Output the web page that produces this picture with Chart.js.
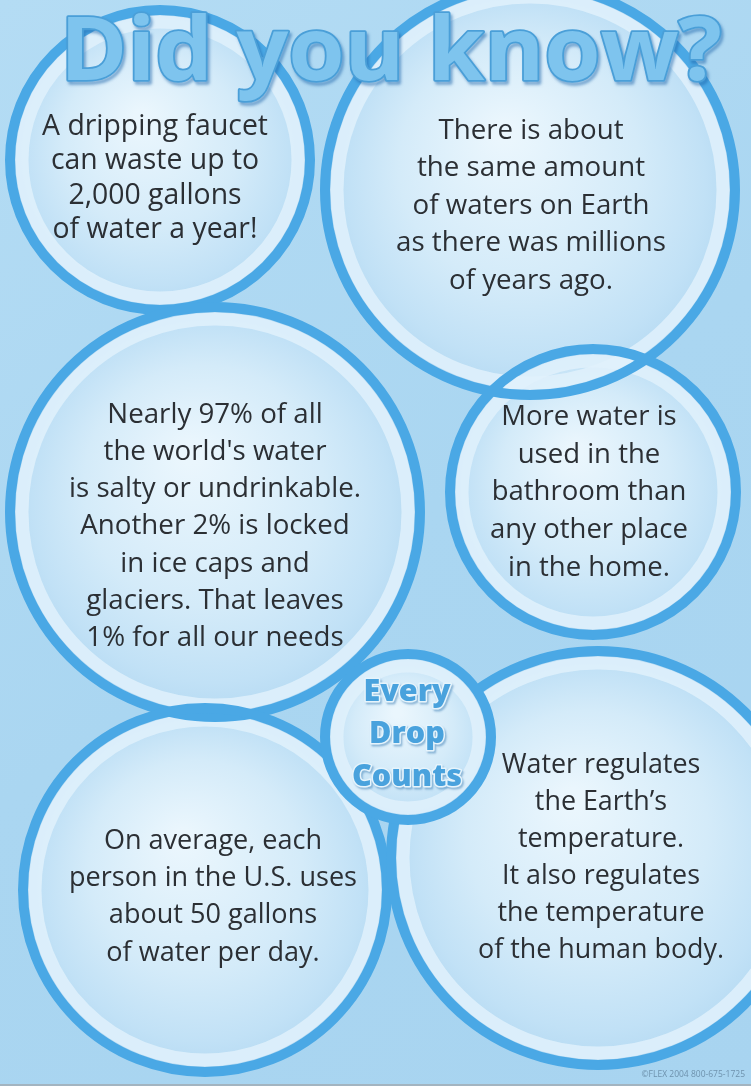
<!DOCTYPE html>
<html><head><meta charset="utf-8">
<script src="https://cdn.jsdelivr.net/npm/chart.js@4/dist/chart.umd.min.js"></script>
<style>
html,body{margin:0;padding:0;background:#acd7f2;}
canvas{display:block;}
</style></head><body>
<canvas id="c" width="751" height="1086"></canvas>
<script>
// ---- data (poster units: x 0..751, y 0..1086) ----
const bubbleNames = ['faucet','sameAmount','salty','bathroom','everyDrop','average','regulates'];
const bubbleX = [160, 530, 215, 593, 408, 205, 598];
const bubbleY = [160, 190, 512, 492, 737, 890, 858];
const bubbleR = [155, 210, 210, 148, 88, 187, 212];
const factTexts = [
  ['A dripping faucet','can waste up to','2,000 gallons','of water a year!'],
  ['There is about','the same amount','of waters on Earth','as there was millions','of years ago.'],
  ["Nearly 97% of all","the world's water","is salty or undrinkable.","Another 2% is locked","in ice caps and","glaciers. That leaves","1% for all our needs"],
  ['More water is','used in the','bathroom than','any other place','in the home.'],
  ['Every','Drop','Counts'],
  ['On average, each','person in the U.S. uses','about 50 gallons','of water per day.'],
  ["Water regulates","the Earth\u2019s","temperature.","It also regulates","the temperature","of the human body."]
];
const titleText = 'Did you know?';
const creditText = '\u00A9FLEX 2004 800-675-1725';

// ---- layout / style ----
const textLayout = [
  {cx:155, y0:127, lh:34.4, w:226},
  {cx:531, y0:131, lh:37.5, w:270},
  {cx:215, y0:415, lh:37.2, w:292},
  {cx:589, y0:417, lh:37.8, w:198},
  {cx:407, y0:692, lh:42.5, w:110, bold:true},
  {cx:213, y0:841, lh:37.3, w:288},
  {cx:601, y0:765, lh:37.0, w:246}
];
const FONT = "'Open Sans', 'Noto Sans', sans-serif";
const TOP_NAME = 'everyDrop';

const pts = bubbleX.map((x,i)=>({x:x, y:bubbleY[i], r:bubbleR[i], name:bubbleNames[i]}));
const basePts = pts.filter(p => p.name !== TOP_NAME);
const topPts = pts.filter(p => p.name === TOP_NAME);

function paintFills(chart, meta){
  const c = chart.ctx;
  c.save();
  meta.data.forEach(el => {
    const cx = el.x, cy = el.y, r = el.options.radius;
    if (!isFinite(cx) || !isFinite(cy) || !isFinite(r)) return;
    const g = c.createRadialGradient(cx - r*0.12, cy - r*0.28, r*0.05, cx, cy, r);
    g.addColorStop(0, '#eaf6fd');
    g.addColorStop(0.55, '#d4ebf9');
    g.addColorStop(0.85, '#c1e1f6');
    g.addColorStop(1, '#b4d9f2');
    c.fillStyle = g;
    c.beginPath(); c.arc(cx, cy, r, 0, Math.PI*2); c.fill();
  });
  c.restore();
}

const bgPlugin = {
  id:'posterBg',
  beforeDraw(chart){
    const c = chart.ctx;
    const g = c.createLinearGradient(0,0,chart.width,chart.height);
    g.addColorStop(0,'#b4dcf4');
    g.addColorStop(0.5,'#aad6f1');
    g.addColorStop(1,'#a8d4f0');
    c.save(); c.fillStyle = g; c.fillRect(0,0,chart.width,chart.height); c.restore();
  },
  beforeDatasetDraw(chart, args){
    const ds = chart.data.datasets[args.index];
    if (ds.isFill) paintFills(chart, args.meta);
  }
};

const textPlugin = {
  id:'posterText',
  afterDatasetsDraw(chart){
    const c = chart.ctx, sx = chart.scales.x, sy = chart.scales.y;
    c.save();
    c.textAlign = 'center';
    c.textBaseline = 'middle';
    factTexts.forEach((lines, i) => {
      const L = textLayout[i];
      const weight = L.bold ? '800 ' : '500 ';
      c.font = weight + '100px ' + FONT;
      let maxW = 0;
      lines.forEach(t => { maxW = Math.max(maxW, c.measureText(t).width); });
      const size = 100 * L.w / maxW;
      c.font = weight + size.toFixed(2) + 'px ' + FONT;
      lines.forEach((t, k) => {
        const x = sx.getPixelForValue(L.cx);
        const y = sy.getPixelForValue(L.y0 + k*L.lh);
        if (L.bold) {
          c.save();
          c.lineJoin = 'round';
          c.shadowColor = 'rgba(40,110,170,0.45)';
          c.shadowOffsetX = 1.5; c.shadowOffsetY = 2; c.shadowBlur = 2;
          c.strokeStyle = '#e6f4fc'; c.lineWidth = 3;
          c.strokeText(t, x, y);
          c.shadowColor = 'transparent';
          c.fillStyle = '#49a2dd';
          c.fillText(t, x, y);
          c.restore();
        } else {
          c.fillStyle = '#2b2f34';
          c.fillText(t, x, y);
        }
      });
    });
    // title
    const targetW = 662, titleSize = 88;
    c.font = '700 ' + titleSize + 'px ' + FONT;
    const mw = c.measureText(titleText).width;
    c.save();
    c.translate(sx.getPixelForValue(391), sy.getPixelForValue(80));
    c.scale(targetW / mw, 1);
    c.textBaseline = 'alphabetic';
    c.lineJoin = 'round';
    c.shadowColor = 'rgba(30,100,170,0.55)';
    c.shadowOffsetX = 2; c.shadowOffsetY = 3; c.shadowBlur = 3;
    c.strokeStyle = '#4a9fd8'; c.lineWidth = 3.5;
    c.strokeText(titleText, 0, 0);
    c.shadowColor = 'transparent';
    c.fillStyle = '#7ec4ee';
    c.fillText(titleText, 0, 0);
    c.restore();
    // credit
    c.font = '400 8.5px ' + FONT;
    c.fillStyle = '#6e92ad';
    c.textAlign = 'right';
    c.fillText(creditText, sx.getPixelForValue(745), sy.getPixelForValue(1075));
    // bottom edge line
    c.fillStyle = '#a3b4c0';
    c.fillRect(0, chart.height - 2, chart.width, 2);
    c.restore();
  }
};

function ringSets(list, suffix, baseOrder){
  return [
    { label:'rings'+suffix, order:baseOrder, clip:false,
      data: list.map(p=>({x:p.x, y:p.y, r:p.r-5})),
      backgroundColor:'rgba(0,0,0,0)', borderColor:'#4aa8e5', borderWidth:10, hoverBorderWidth:10 },
    { label:'band'+suffix, order:baseOrder+1, clip:false,
      data: list.map(p=>({x:p.x, y:p.y, r:p.r-17})),
      backgroundColor:'rgba(0,0,0,0)', borderColor:'rgba(224,241,252,0.85)', borderWidth:13, hoverBorderWidth:13 },
    { label:'fills'+suffix, order:baseOrder+2, clip:false, isFill:true,
      data: list.map(p=>({x:p.x, y:p.y, r:p.r-1})),
      backgroundColor:'rgba(0,0,0,0)', borderWidth:0 }
  ];
}

new Chart(document.getElementById('c'), {
  type:'bubble',
  data:{ datasets: ringSets(topPts, 'Top', 1).concat(ringSets(basePts, '', 4)) },
  options:{
    responsive:false, animation:false, events:[],
    layout:{padding:0, autoPadding:false},
    scales:{
      x:{type:'linear', min:0, max:751, display:false},
      y:{type:'linear', min:0, max:1086, reverse:true, display:false}
    },
    plugins:{legend:{display:false}, tooltip:{enabled:false}}
  },
  plugins:[bgPlugin, textPlugin]
});
</script>
</body></html>
